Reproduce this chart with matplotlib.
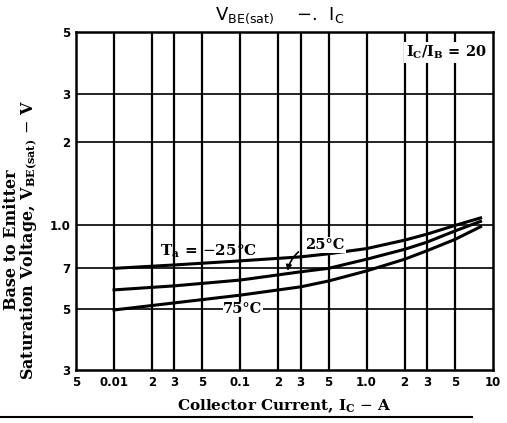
import matplotlib
matplotlib.use("Agg")
import matplotlib.pyplot as plt
from matplotlib.lines import Line2D

plt.rcParams["mathtext.fontset"] = "dejavuserif"

# collector current (A) and V_BE(sat) (V)
ic = [0.01, 0.03, 0.1, 0.3, 0.5, 1.0, 2.0, 3.0, 5.0, 8.0]
vbe_m25 = [0.70, 0.72, 0.745, 0.77, 0.79, 0.825, 0.885, 0.93, 1.0, 1.065]
vbe_25 = [0.585, 0.605, 0.635, 0.68, 0.70, 0.755, 0.82, 0.87, 0.955, 1.035]
vbe_75 = [0.495, 0.525, 0.56, 0.60, 0.63, 0.685, 0.755, 0.81, 0.89, 0.99]

xticks = [0.005, 0.01, 0.02, 0.03, 0.05, 0.1, 0.2, 0.3, 0.5, 1, 2, 3, 5, 10]
xlabels = ["5", "0.01", "2", "3", "5", "0.1", "2", "3", "5", "1.0", "2", "3", "5", "10"]
yticks = [0.3, 0.5, 0.7, 1.0, 2, 3, 5]
ylabels = ["3", "5", "7", "1.0", "2", "3", "5"]

fig = plt.figure(figsize=(5.07, 4.23), dpi=100)
ax = fig.add_axes([0.150, 0.125, 0.822, 0.799])

ax.set_xscale("log")
ax.set_yscale("log")
ax.set_xlim(0.005, 10)
ax.set_ylim(0.3, 5)

ax.set_xticks(xticks)
ax.set_xticklabels(xlabels)
ax.set_yticks(yticks)
ax.set_yticklabels(ylabels)
ax.minorticks_off()
ax.tick_params(length=0, pad=4, labelsize=8.5)
for t in ax.get_xticklabels() + ax.get_yticklabels():
    t.set_fontweight("bold")

for v in xticks[1:-1]:
    ax.axvline(v, color="black", lw=1.6, zorder=1)
for v in yticks[1:-1]:
    ax.axhline(v, color="black", lw=1.2, zorder=1)
for s in ax.spines.values():
    s.set_linewidth(1.8)

for vals in (vbe_m25, vbe_25, vbe_75):
    ax.plot(ic, vals, color="black", lw=2.2, zorder=3)

serif = dict(family="DejaVu Serif", fontweight="bold")
ax.text(0.056, 0.81, r"T$_\mathbf{a}$ = $-$25°C", ha="center", va="center",
        fontsize=11, zorder=4, **serif)
ax.text(0.47, 0.85, "25°C", ha="center", va="center", fontsize=10.5, zorder=4,
        bbox=dict(facecolor="white", edgecolor="none", pad=0.5), **serif)
ax.annotate("", xy=(0.235, 0.67), xytext=(0.30, 0.815),
            arrowprops=dict(arrowstyle="-|>", color="black", lw=1.2,
                            connectionstyle="arc3,rad=0.2", mutation_scale=8),
            zorder=4)
ax.text(0.105, 0.497, "75°C", ha="center", va="center", fontsize=10.5, zorder=4,
        bbox=dict(facecolor="white", edgecolor="none", pad=0.5), **serif)
ax.text(0.985, 0.94, r"I$_\mathbf{C}$/I$_\mathbf{B}$ = 20", transform=ax.transAxes,
        ha="right", va="center", fontsize=10.5, zorder=4,
        bbox=dict(facecolor="white", edgecolor="none", pad=1), **serif)

fig.text(0.552, 0.963, r"V$_{\mathsf{BE(sat)}}$    $-$.  I$_\mathsf{C}$", ha="center",
         va="center", fontsize=13, family="DejaVu Sans")

ax.set_xlabel(r"Collector Current, I$_\mathbf{C}$ $-$ A", fontsize=11, labelpad=6, **serif)
ax.set_ylabel("Base to Emitter\n" + r"Saturation Voltage, V$_\mathbf{BE(sat)}$ $-$ V",
              fontsize=11.5, linespacing=0.95, **serif)
ax.yaxis.set_label_coords(-0.086, 0.385)

fig.add_artist(Line2D([0.0, 0.93], [0.014, 0.014], transform=fig.transFigure,
                      color="black", lw=1.5))

fig.savefig("out.png", dpi=100)
